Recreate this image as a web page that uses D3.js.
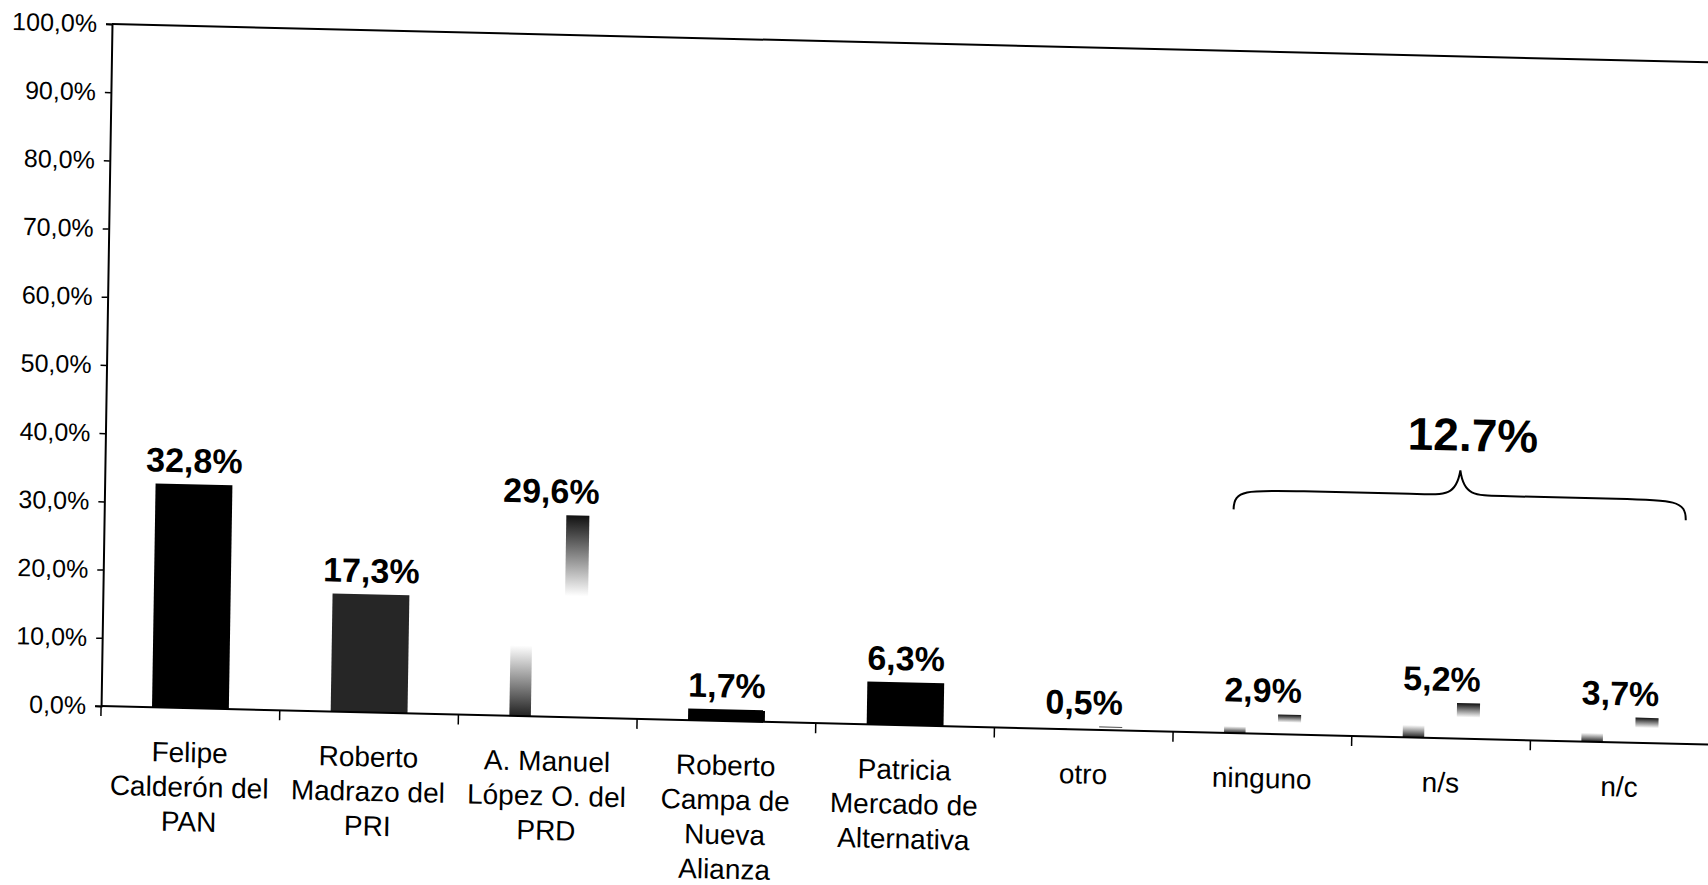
<!DOCTYPE html>
<html>
<head>
<meta charset="utf-8">
<script src="https://cdn.jsdelivr.net/npm/d3@7"></script>
<style>
  html, body { margin: 0; padding: 0; background: #fff; }
  svg { display: block; font-family: "Liberation Sans", Arial, sans-serif; }
</style>
</head>
<body>
<div id="chart"></div>
<script>
// candidates, label lines as printed under the axis
const categoryLines = [
    ['Felipe', 'Calderón del', 'PAN'],
    ['Roberto', 'Madrazo del', 'PRI'],
    ['A. Manuel', 'López O. del', 'PRD'],
    ['Roberto', 'Campa de', 'Nueva', 'Alianza'],
    ['Patricia', 'Mercado de', 'Alternativa'],
    ['otro'],
    ['ninguno'],
    ['n/s'],
    ['n/c']
];
const categories = categoryLines.map(lines => lines.join(' '));
const values = [32.8, 17.3, 29.6, 1.7, 6.3, 0.5, 2.9, 5.2, 3.7];
const valueLabels = ['32,8%', '17,3%', '29,6%', '1,7%', '6,3%', '0,5%', '2,9%', '5,2%', '3,7%'];
const yTicks = [0, 10, 20, 30, 40, 50, 60, 70, 80, 90, 100];

// the three "no vote" answers grouped by the brace
const bracedCategories = ['ninguno', 'n/s', 'n/c'];
const bracedLabel = '12.7%';
const braceLevels = { ends: 32.8, arms: 35.7, peak: 39.3, text: 42.2 };

// how each bar came out on the scan: solid fill or faded gradient
const barLook = ['#000', '#262626', 'ghost', '#000', '#000', 'ghost', 'ghost', 'ghost', 'ghost'];

const WIDTH = 1708;
const HEIGHT = 885;
const MARGIN_LEFT = 112;
const MARGIN_TOP = 24;
const PLOT_WIDTH = 1608;
const PLOT_HEIGHT = 682;
const LINE_GAP = 34.6;

const svg = d3.select('#chart').append('svg')
    .attr('width', WIDTH)
    .attr('height', HEIGHT)
    .attr('viewBox', [0, 0, WIDTH, HEIGHT]);

svg.append('rect').attr('width', WIDTH).attr('height', HEIGHT).attr('fill', '#fff');

const defs = svg.append('defs');
const fadeDown = defs.append('linearGradient').attr('id', 'fade-down')
    .attr('x1', 0).attr('y1', 0).attr('x2', 0).attr('y2', 1);
fadeDown.append('stop').attr('offset', 0).attr('stop-color', '#111').attr('stop-opacity', 1);
fadeDown.append('stop').attr('offset', 1).attr('stop-color', '#111').attr('stop-opacity', 0);
const fadeUp = defs.append('linearGradient').attr('id', 'fade-up')
    .attr('x1', 0).attr('y1', 0).attr('x2', 0).attr('y2', 1);
fadeUp.append('stop').attr('offset', 0).attr('stop-color', '#222').attr('stop-opacity', 0);
fadeUp.append('stop').attr('offset', 1).attr('stop-color', '#222').attr('stop-opacity', 1);

// the page was scanned slightly askew
const chart = svg.append('g')
    .attr('transform', `matrix(1, 0.024, -0.016, 1, ${MARGIN_LEFT}, ${MARGIN_TOP})`);

const x = d3.scaleBand()
    .domain(categories)
    .range([0, PLOT_WIDTH])
    .paddingInner(0.57)
    .paddingOuter(0.285);

const y = d3.scaleLinear()
    .domain([0, 100])
    .range([PLOT_HEIGHT, 0]);

// top frame line
chart.append('line')
    .attr('x1', 0).attr('x2', PLOT_WIDTH)
    .attr('y1', y(100)).attr('y2', y(100))
    .attr('stroke', '#000').attr('stroke-width', 2);

// y axis
const yAxis = chart.append('g')
    .call(d3.axisLeft(y)
        .tickValues(yTicks)
        .tickSize(6)
        .tickPadding(9)
        .tickFormat(d => d.toFixed(1).replace('.', ',') + '%'));
yAxis.select('.domain').attr('stroke-width', 2);
yAxis.selectAll('.tick line').attr('stroke-width', 1.5);
yAxis.selectAll('text')
    .attr('font-size', 25)
    .attr('font-family', '"Liberation Sans", Arial, sans-serif')
    .attr('fill', '#000');

// bars
const step = x.step();
const bw = x.bandwidth();

categories.forEach((c, i) => {
    const v = values[i];
    const bx = x(c);
    const top = y(v);
    const h = y(0) - y(v);
    if (barLook[i] !== 'ghost') {
        chart.append('rect')
            .attr('x', bx).attr('y', top)
            .attr('width', bw).attr('height', h)
            .attr('fill', barLook[i]);
    } else {
        // faded gradient bar: only a dark streak top-right and a smudge bottom-left survived
        chart.append('rect')
            .attr('x', bx + bw * 0.7).attr('y', top)
            .attr('width', bw * 0.3).attr('height', h * 0.4)
            .attr('fill', 'url(#fade-down)');
        chart.append('rect')
            .attr('x', bx).attr('y', y(0) - h * 0.35)
            .attr('width', bw * 0.28).attr('height', h * 0.35)
            .attr('fill', 'url(#fade-up)');
    }
});

// value labels
chart.selectAll('.label-value')
    .data(categories)
    .join('text')
    .attr('class', 'label-value')
    .attr('x', c => x(c) + bw / 2)
    .attr('y', (c, i) => y(values[i]) - 12)
    .attr('text-anchor', 'middle')
    .attr('font-size', 34)
    .attr('font-weight', 'bold')
    .text((c, i) => valueLabels[i]);

// x axis line with band boundary ticks
chart.append('line')
    .attr('x1', 0).attr('x2', PLOT_WIDTH)
    .attr('y1', y(0)).attr('y2', y(0))
    .attr('stroke', '#000').attr('stroke-width', 2);

chart.selectAll('.band-tick')
    .data(d3.range(categories.length + 1))
    .join('line')
    .attr('class', 'band-tick')
    .attr('x1', i => i * step).attr('x2', i => i * step)
    .attr('y1', y(0)).attr('y2', y(0) + 10)
    .attr('stroke', '#000').attr('stroke-width', 1.5);

// category labels
const catLabels = chart.selectAll('.label-cat')
    .data(categoryLines)
    .join('text')
    .attr('class', 'label-cat')
    .attr('text-anchor', 'middle')
    .attr('font-size', 28)
    .attr('transform', (lines, i) => `translate(${x(categories[i]) + bw / 2}, ${y(0) + 54})`);

catLabels.selectAll('tspan')
    .data(lines => lines)
    .join('tspan')
    .attr('x', 0)
    .attr('y', (d, j) => j * LINE_GAP)
    .text(d => d);

// brace over the "no vote" group
const bx0 = x(bracedCategories[0]) + 6;
const bx1 = x(bracedCategories[bracedCategories.length - 1]) + bw + 24;
const mid = (bx0 + bx1) / 2;
const yEnd = y(braceLevels.ends);
const yArm = y(braceLevels.arms);
const yPeak = y(braceLevels.peak);

const brace = d3.path();
brace.moveTo(bx0, yEnd);
brace.bezierCurveTo(bx0, yArm, bx0 + 12, yArm, bx0 + 70, yArm);
brace.lineTo(mid - 50, yArm);
brace.bezierCurveTo(mid - 15, yArm, mid - 4, yArm + 2, mid, yPeak);
brace.bezierCurveTo(mid + 4, yArm + 2, mid + 15, yArm, mid + 50, yArm);
brace.lineTo(bx1 - 70, yArm);
brace.bezierCurveTo(bx1 - 12, yArm, bx1, yArm, bx1, yEnd);

chart.append('path')
    .attr('d', brace.toString())
    .attr('fill', 'none')
    .attr('stroke', '#000')
    .attr('stroke-width', 2);

chart.append('text')
    .attr('x', mid + 12)
    .attr('y', y(braceLevels.text))
    .attr('text-anchor', 'middle')
    .attr('font-size', 46)
    .attr('font-weight', 'bold')
    .text(bracedLabel);
</script>
</body>
</html>
